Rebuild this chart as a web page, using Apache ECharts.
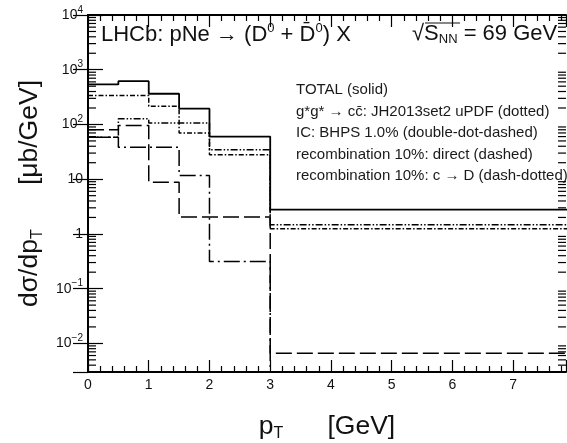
<!DOCTYPE html>
<html>
<head>
<meta charset="utf-8">
<script src="https://cdn.jsdelivr.net/npm/echarts@6/dist/echarts.min.js"></script>
<style>
html,body{margin:0;padding:0;background:#fff}
#main{width:567px;height:443px}
</style>
</head>
<body>
<div id="main"></div>
<script type="text/javascript">
// pT bin edges [GeV]; the last bin runs out past the right frame
var binEdges = [0, 0.5, 1, 1.5, 2, 3, 8];
// dsigma/dpT [mub/GeV] per bin
var total      = [538, 618, 364, 194, 60, 2.77];
var ggDotted   = [339, 339, 216, 70, 28, 1.24];
var icBHPS     = [58.6, 127, 106, 106, 34.5, 1.47];
var recoDirect = [80, 96, 8.8, 2.03, 2.03, 0.0066];
var recoCtoD   = [58.6, 38.5, 38.5, 11.7, 0.315, 0.002]; // last bin is off the bottom of the frame
var legendLines = [
    'TOTAL (solid)',
    'g*g* \u2192 cc\u0304: JH2013set2 uPDF (dotted)',
    'IC: BHPS 1.0% (double-dot-dashed)',
    'recombination 10%: direct (dashed)',
    'recombination 10%: c \u2192 D (dash-dotted)'
];
var xMin = 0, xMax = 7.87;
var yMin = 0.003, yMax = 10000;

var FONT = "'Liberation Sans', Arial, Helvetica, sans-serif";

function steps(vals) {
    return binEdges.map(function (e, i) {
        return [e, vals[Math.min(i, vals.length - 1)]];
    });
}

// log minor ticks 2..9 per decade
var minorLog = [];
for (var k = -3; k <= 3; k++) {
    for (var m = 2; m <= 9; m++) {
        var v = m * Math.pow(10, k);
        if (v > yMin && v < yMax) minorLog.push([xMin, v]);
    }
}

function histo(name, vals, width, dash) {
    return {
        name: name,
        type: 'line',
        step: 'end',
        symbol: 'none',
        data: steps(vals),
        lineStyle: {color: '#000', width: width, type: dash},
        z: 3
    };
}

var myChart = echarts.init(document.getElementById('main'));

var yLabel = {
    fontFamily: FONT,
    fontSize: 14,
    color: '#111',
    margin: 5,
    showMinLabel: false,
    formatter: function (v) {
        var p = Math.round(Math.log10(v));
        if (p === 0) return '{b|1}';
        if (p === 1) return '{b|10}';
        return '{b|10}{sup|' + (p < 0 ? '\u2212' + (-p) : p) + '}';
    },
    rich: {
        b: {fontFamily: FONT, fontSize: 14, color: '#111'},
        sup: {fontFamily: FONT, fontSize: 10, color: '#111', padding: [0, 0, 10, 0]}
    }
};

var titleRich = {
    n: {fontFamily: FONT, fontSize: 26.5, color: '#111'},
    s: {fontFamily: FONT, fontSize: 16, color: '#111', padding: [15, 0, 0, 0]}
};

var option = {
    backgroundColor: '#fff',
    animation: false,
    grid: {left: 88, right: 1, top: 15, bottom: 71, containLabel: false, outerBoundsMode: 'none'},
    xAxis: [{
        type: 'value', min: xMin, max: xMax, interval: 1,
        position: 'bottom',
        axisLine: {lineStyle: {color: '#000', width: 2}},
        axisTick: {inside: true, length: 12, lineStyle: {color: '#000', width: 1.2}},
        minorTick: {show: true, splitNumber: 5, length: 6, lineStyle: {color: '#000', width: 1.2}},
        splitLine: {show: false},
        axisLabel: {fontFamily: FONT, fontSize: 14, color: '#111', margin: 6, showMaxLabel: false},
        name: '{n|p}{s|T}{n|      [GeV]}',
        nameLocation: 'middle',
        nameGap: 39,
        nameTextStyle: {rich: titleRich}
    }, {
        type: 'value', min: xMin, max: xMax, interval: 1,
        position: 'top',
        axisLine: {lineStyle: {color: '#000', width: 2}},
        axisTick: {inside: true, length: 12, lineStyle: {color: '#000', width: 1.2}},
        minorTick: {show: true, splitNumber: 5, length: 6, lineStyle: {color: '#000', width: 1.2}},
        splitLine: {show: false},
        axisLabel: {show: false}
    }],
    yAxis: [{
        type: 'log', logBase: 10, min: yMin, max: yMax,
        position: 'left',
        axisLine: {show: true, lineStyle: {color: '#000', width: 2}},
        axisTick: {inside: true, length: 15, lineStyle: {color: '#000', width: 1.2}},
        splitLine: {show: false},
        axisLabel: yLabel,
        name: '{n|d\u03c3/dp}{s|T}{n|      [\u03bcb/GeV]}',
        nameLocation: 'middle',
        nameGap: 29,
        nameTextStyle: {rich: titleRich}
    }, {
        type: 'log', logBase: 10, min: yMin, max: yMax,
        position: 'right',
        axisLine: {show: true, lineStyle: {color: '#000', width: 2}},
        axisTick: {inside: true, length: 15, lineStyle: {color: '#000', width: 1.2}},
        splitLine: {show: false},
        axisLabel: {show: false}
    }],
    series: [
        histo('TOTAL', total, 1.8, 'solid'),
        histo('g*g*', ggDotted, 1.5, [5, 2, 1.5, 2]),
        histo('IC', icBHPS, 1.5, [7, 2, 1.5, 2, 1.5, 2]),
        histo('direct', recoDirect, 1.5, [16, 5]),
        histo('c to D', recoCtoD, 1.5, [16, 4, 2, 4]),
        {
            type: 'custom',
            silent: true,
            clip: false,
            data: minorLog,
            renderItem: function (params, api) {
                var v = api.value(1);
                var pl = api.coord([xMin, v]);
                var pr = api.coord([xMax, v]);
                return {
                    type: 'group',
                    children: [
                        {type: 'line', shape: {x1: pl[0], y1: pl[1], x2: pl[0] + 8, y2: pl[1]}, style: {stroke: '#000', lineWidth: 1.2}},
                        {type: 'line', shape: {x1: pr[0], y1: pr[1], x2: pr[0] - 8, y2: pr[1]}, style: {stroke: '#000', lineWidth: 1.2}}
                    ]
                };
            }
        }
    ],
    graphic: [
        {
            type: 'text', left: 101, top: 22,
            style: {
                text: '{t|LHCb: pNe \u2192 (D}{sup|0}{t| + D\u0304}{sup|0}{t|) X}',
                rich: {
                    t: {fontFamily: FONT, fontSize: 22, fill: '#111'},
                    sup: {fontFamily: FONT, fontSize: 13, fill: '#111', padding: [0, 0, 12, 0]}
                }
            }
        },
        {
            type: 'text', left: 412, top: 23,
            style: {
                text: '{t|\u221a}{t|S}{sub|NN}{t| = 69 GeV}',
                rich: {
                    t: {fontFamily: FONT, fontSize: 22, fill: '#111'},
                    sub: {fontFamily: FONT, fontSize: 13, fill: '#111', padding: [10, 0, 0, 0]}
                }
            }
        },
        {
            type: 'line', shape: {x1: 425, y1: 23, x2: 460, y2: 23},
            style: {stroke: '#111', lineWidth: 1.2}
        },
        {
            type: 'text', left: 296, top: 79,
            style: {
                text: legendLines.join('\n'),
                fontFamily: FONT, fontSize: 15, lineHeight: 21.6, fill: '#1a1a1a'
            }
        }
    ]
};

myChart.setOption(option);
</script>
</body>
</html>
